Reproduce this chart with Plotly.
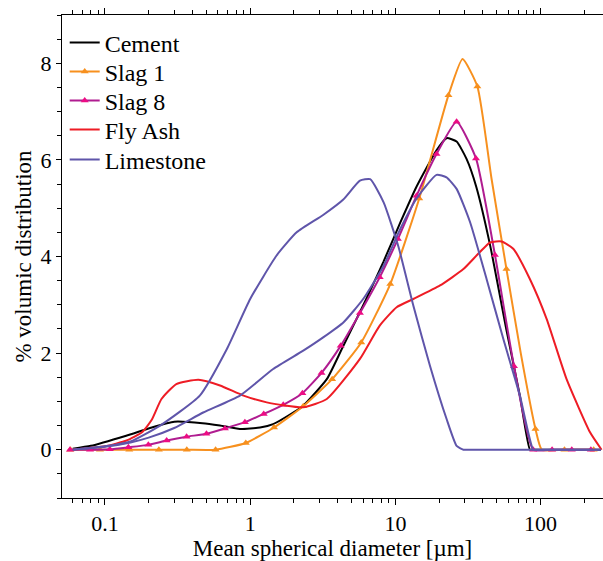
import math
import plotly.graph_objects as go

# ---------------- data ----------------
cement_x = [0.06, 0.08, 0.14, 0.21, 0.3, 0.47, 0.62, 0.85, 1.17, 1.44, 1.98, 2.3, 3.37, 4.3, 6.3, 8.3, 10.8, 14, 19.2, 22.5, 26.4, 30.9, 36, 45, 58, 72, 84.5, 90, 260]
cement_y = [0.02, 0.08, 0.29, 0.46, 0.58, 0.55, 0.5, 0.43, 0.46, 0.53, 0.77, 0.9, 1.46, 2.1, 3.12, 3.9, 4.7, 5.45, 6.2, 6.45, 6.38, 6.02, 5.45, 4.22, 2.5, 1.12, 0, 0, 0]

slag1_x = [0.0578, 0.0924, 0.147, 0.235, 0.366, 0.578, 0.933, 1.46, 2.32, 3.67, 5.82, 9.22, 14.6, 23.2, 29.0, 36.7, 46, 58.2, 73, 92.2, 102, 146, 232]
slag1_y = [0, 0, 0, 0, 0, 0, 0.14, 0.46, 0.9, 1.46, 2.22, 3.43, 5.2, 7.34, 8.09, 7.52, 5.6, 3.74, 2.0, 0.43, 0, 0, 0]
slag1_marked = [1, 1, 1, 1, 1, 1, 1, 1, 1, 1, 1, 1, 1, 1, 0, 1, 0, 1, 0, 1, 0, 1, 1]

slag8_x = [0.0574, 0.0789, 0.108, 0.145, 0.199, 0.266, 0.365, 0.50, 0.67, 0.92, 1.24, 1.69, 2.29, 3.1, 4.2, 5.7, 7.8, 10.4, 14.0, 19.2, 26.4, 35.9, 48.5, 65.6, 89, 120, 164, 222]
slag8_y = [0, 0, 0.01, 0.05, 0.10, 0.19, 0.27, 0.33, 0.44, 0.57, 0.74, 0.93, 1.17, 1.59, 2.15, 2.83, 3.57, 4.36, 5.26, 6.12, 6.79, 6.03, 4.03, 1.73, 0, 0, 0, 0]

flyash_x = [0.06, 0.1, 0.141, 0.18, 0.21, 0.245, 0.31, 0.44, 0.62, 0.90, 1.30, 2.32, 3.37, 5.7, 7.8, 10.2, 13.3, 20.3, 29.4, 44.9, 53.9, 64.8, 84.5, 110, 151, 219, 263]
flyash_y = [0, 0.07, 0.19, 0.36, 0.62, 1.05, 1.36, 1.45, 1.33, 1.12, 0.98, 0.88, 1.05, 1.88, 2.57, 2.95, 3.12, 3.40, 3.74, 4.29, 4.31, 4.16, 3.53, 2.71, 1.46, 0.36, 0]

limeA_x = [0.06, 0.1, 0.15, 0.24, 0.45, 0.69, 1.0, 1.52, 2.09, 3.18, 4.38, 5.7, 6.7, 8.3, 10.5, 13.3, 17.3, 22.5, 26.4, 29.4, 35, 260]
limeA_y = [0, 0.07, 0.17, 0.5, 1.12, 2.08, 3.12, 4.02, 4.5, 4.86, 5.18, 5.57, 5.6, 5.12, 4.2, 2.98, 1.74, 0.64, 0.08, 0, 0, 0]

limeB_x = [0.06, 0.1, 0.15, 0.2, 0.3, 0.475, 0.85, 1.44, 2.32, 3.2, 4.4, 6.0, 8.3, 10.8, 14, 19.2, 22.5, 26.4, 32.7, 42.5, 55.4, 72, 89, 95, 260]
limeB_y = [0, 0.06, 0.15, 0.25, 0.45, 0.77, 1.12, 1.67, 2.05, 2.33, 2.64, 3.12, 3.81, 4.57, 5.2, 5.69, 5.64, 5.40, 4.71, 3.53, 2.29, 1.12, 0, 0, 0]

series_names = ["Cement", "Slag 1", "Slag 8", "Fly Ash", "Limestone"]
x_tick_vals = [0.1, 1, 10, 100]
x_tick_text = ["0.1", "1", "10", "100"]
y_tick_vals = [0, 2, 4, 6, 8]

# ---------------- style ----------------
FONT = "Liberation Serif, Times New Roman, Times, serif"
C_CEMENT = "#000000"
C_SLAG1 = "#F7901E"
C_SLAG8_LINE = "#B01C90"
C_SLAG8_MARK = "#EC0C84"
C_FLY = "#EE1C25"
C_LIME = "#5F55AA"
LW = 2
MS = 7
SM = 0.5
FS = 24
TICK_FS = 22
TITLE_FS = 23

W, H = 603, 561
ML, MR, MT, MB = 62, 0, 15, 63
legend_centers_px = [43, 72, 101, 130, 160]   # vertical centres of legend rows (px)


def line(color):
    return dict(color=color, width=LW, shape="spline", smoothing=SM)


fig = go.Figure()

# Cement
fig.add_trace(go.Scatter(x=cement_x, y=cement_y, mode="lines", name=series_names[0],
                         line=line(C_CEMENT), legend="legend"))

# Slag 1: line through all points, markers on the marked points only
fig.add_trace(go.Scatter(x=slag1_x, y=slag1_y, mode="lines", name=series_names[1], legendgroup="s1",
                         showlegend=False, line=line(C_SLAG1)))
s1mx = [x for x, m in zip(slag1_x, slag1_marked) if m]
s1my = [y for y, m in zip(slag1_y, slag1_marked) if m]
fig.add_trace(go.Scatter(x=s1mx, y=s1my, mode="markers", name=series_names[1], legendgroup="s1",
                         marker=dict(symbol="triangle-up", color=C_SLAG1, size=MS), showlegend=False))
fig.add_trace(go.Scatter(x=[None], y=[None], mode="lines+markers", name=series_names[1], legendgroup="s1",
                         line=dict(color=C_SLAG1, width=LW),
                         marker=dict(symbol="triangle-up", color=C_SLAG1, size=MS), legend="legend2"))

# Slag 8
fig.add_trace(go.Scatter(x=slag8_x, y=slag8_y, mode="lines+markers", name=series_names[2],
                         line=line(C_SLAG8_LINE),
                         marker=dict(symbol="triangle-up", color=C_SLAG8_MARK, size=MS), legend="legend3"))

# Fly ash
fig.add_trace(go.Scatter(x=flyash_x, y=flyash_y, mode="lines", name=series_names[3],
                         line=line(C_FLY), legend="legend4"))

# Limestone (two curves)
fig.add_trace(go.Scatter(x=limeA_x, y=limeA_y, mode="lines", name=series_names[4], legendgroup="lime",
                         line=line(C_LIME), legend="legend5"))
fig.add_trace(go.Scatter(x=limeB_x, y=limeB_y, mode="lines", name=series_names[4], legendgroup="lime",
                         showlegend=False, line=line(C_LIME)))

minor_x = [m * 10 ** d for d in range(-2, 3) for m in range(2, 10)]

plot_h = H - MT - MB
legends = {}
for i, cy in enumerate(legend_centers_px):
    key = "legend" if i == 0 else f"legend{i + 1}"
    legends[key] = dict(x=0.005, y=(H - MB - cy) / plot_h, xanchor="left", yanchor="middle",
                        bgcolor="rgba(0,0,0,0)", font=dict(family=FONT, size=FS, color="black"),
                        itemwidth=30)

fig.update_layout(
    width=W, height=H,
    margin=dict(l=ML, r=MR, t=MT, b=MB),
    paper_bgcolor="white", plot_bgcolor="white",
    font=dict(family=FONT, size=FS, color="black"),
    showlegend=True,
    **legends,
    xaxis=dict(type="log", range=[math.log10(0.0506), math.log10(269)],
               tickmode="array", tickvals=x_tick_vals, ticktext=x_tick_text,
               ticks="outside", ticklen=6, tickwidth=1, tickcolor="black",
               showline=True, linecolor="black", linewidth=1, mirror="ticks",
               showgrid=False, zeroline=False,
               minor=dict(tickmode="array", tickvals=minor_x, ticks="outside", ticklen=4,
                          tickcolor="black", showgrid=False),
               title=dict(text="Mean spherical diameter [µm]", standoff=1,
                          font=dict(family=FONT, size=TITLE_FS)),
               tickfont=dict(family=FONT, size=TICK_FS)),
    yaxis=dict(range=[-1, 9], tickmode="array", tickvals=y_tick_vals,
               ticks="outside", ticklen=5, tickwidth=1, tickcolor="black",
               showline=True, linecolor="black", linewidth=1, mirror=False,
               showgrid=False, zeroline=False,
               minor=dict(dtick=0.5, tick0=0, ticks="outside", ticklen=4,
                          tickcolor="black", showgrid=False),
               title=dict(text="% volumic distribution", standoff=2,
                          font=dict(family=FONT, size=TITLE_FS)),
               tickfont=dict(family=FONT, size=TICK_FS)),
)

fig.write_html("out.html")
